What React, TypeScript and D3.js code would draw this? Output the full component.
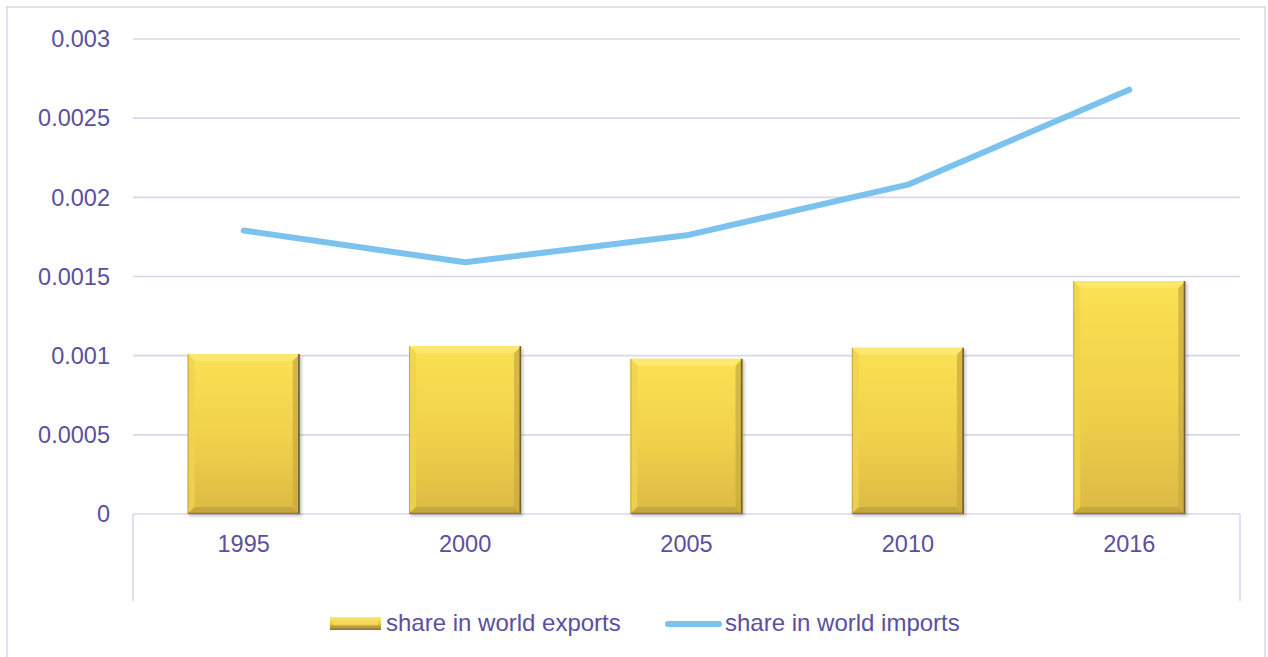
import React from "react";
import * as d3 from "d3";

const categories = ["1995", "2000", "2005", "2010", "2016"];
const exportsShare = [0.00101, 0.00106, 0.00098, 0.00105, 0.00147];
const importsShare = [0.00179, 0.00159, 0.00176, 0.00208, 0.00268];
const yTicks = [0, 0.0005, 0.001, 0.0015, 0.002, 0.0025, 0.003];
const yTickLabels = ["0", "0.0005", "0.001", "0.0015", "0.002", "0.0025", "0.003"];
const seriesNames = ["share in world exports", "share in world imports"];

const W = 1268;
const H = 657;
const TEXT = "#5b4f9f";
const GRID = "#d9d6ec";
const LINE = "#7cc2ee";
const FONT = "'Liberation Sans', Arial, sans-serif";

function Bar({ x, y, w, h }: { x: number; y: number; w: number; h: number }) {
  const b = Math.min(7, h / 4);
  const x1 = x + w;
  const y1 = y + h;
  return (
    <g filter="url(#shadow)">
      <rect x={x} y={y} width={w} height={h} fill="url(#barGrad)" />
      <polygon points={`${x},${y} ${x1},${y} ${x1 - b},${y + b} ${x + b},${y + b}`} fill="#fde86f" opacity={0.9} />
      <polygon points={`${x},${y} ${x + b},${y + b} ${x + b},${y1 - b} ${x},${y1}`} fill="#efd350" opacity={0.8} />
      <polygon points={`${x1},${y} ${x1},${y1} ${x1 - b},${y1 - b} ${x1 - b},${y + b}`} fill="#c9ab40" opacity={0.75} />
      <polygon points={`${x},${y1} ${x + b},${y1 - b} ${x1 - b},${y1 - b} ${x1},${y1}`} fill="#c2a33a" opacity={0.85} />
      <line x1={x1 - 0.8} y1={y} x2={x1 - 0.8} y2={y1} stroke="#6e6030" strokeWidth={1.6} />
      <line x1={x} y1={y1 - 0.6} x2={x1} y2={y1 - 0.6} stroke="#8a7634" strokeWidth={1.2} />
      <line x1={x + 0.5} y1={y} x2={x + 0.5} y2={y1} stroke="#b59a3a" strokeWidth={1} opacity={0.7} />
    </g>
  );
}

export default function App() {
  const left = 133;
  const right = 1240;
  const y = d3.scaleLinear().domain([0, 0.003]).range([514, 39]);
  const x = d3.scaleBand<string>().domain(categories).range([left, right]).padding(0);
  const barW = x.bandwidth() * 0.506;
  const cx = (c: string) => (x(c) as number) + x.bandwidth() / 2;

  const line = d3
    .line<number>()
    .x((_, i) => cx(categories[i]))
    .y((d) => y(d))
    .curve(d3.curveLinear);

  return (
    <svg
      width={W}
      height={H}
      style={{ position: "absolute", left: 0, top: 0, background: "#fff" }}
      fontFamily={FONT}
    >
      <defs>
        <linearGradient id="barGrad" x1="0" y1="0" x2="0" y2="1">
          <stop offset="0%" stopColor="#fbe153" />
          <stop offset="55%" stopColor="#f0d04a" />
          <stop offset="100%" stopColor="#dcb944" />
        </linearGradient>
        <linearGradient id="legGrad" x1="0" y1="0" x2="0" y2="1">
          <stop offset="0%" stopColor="#fdeb6c" />
          <stop offset="50%" stopColor="#e9c94a" />
          <stop offset="100%" stopColor="#8c7634" />
        </linearGradient>
        <filter id="shadow" x="-10%" y="-10%" width="125%" height="125%">
          <feDropShadow dx="1.5" dy="2" stdDeviation="1.5" floodColor="#000" floodOpacity="0.25" />
        </filter>
      </defs>

      <rect x={7} y={7} width={1258} height={700} fill="none" stroke={GRID} strokeWidth={1.5} />

      {yTicks.map((t, i) => (
        <line key={i} x1={left} x2={right} y1={y(t)} y2={y(t)} stroke={GRID} strokeWidth={1.6} />
      ))}
      <line x1={left} x2={left} y1={y(0)} y2={601} stroke={GRID} strokeWidth={1.6} />
      <line x1={right} x2={right} y1={y(0)} y2={601} stroke={GRID} strokeWidth={1.6} />

      {yTicks.map((t, i) => (
        <text key={i} x={110} y={y(t)} dy="0.35em" textAnchor="end" fill={TEXT} fontSize={23.5}>
          {yTickLabels[i]}
        </text>
      ))}

      {exportsShare.map((v, i) => {
        const c = categories[i];
        const bx = cx(c) - barW / 2;
        return <Bar key={c} x={bx} y={y(v)} w={barW} h={y(0) - y(v)} />;
      })}

      <path d={line(importsShare) || ""} fill="none" stroke={LINE} strokeWidth={6} strokeLinejoin="round" strokeLinecap="round" />

      {categories.map((c) => (
        <text key={c} x={cx(c)} y={552} textAnchor="middle" fill={TEXT} fontSize={23.5}>
          {c}
        </text>
      ))}

      <g>
        <rect x={330} y={617} width={51} height={13} fill="url(#legGrad)" />
        <rect x={333} y={619} width={45} height={6} fill="#f8e05a" opacity={0.7} />
        <text x={386} y={631} fill={TEXT} fontSize={24}>{seriesNames[0]}</text>
        <line x1={668} x2={719} y1={624} y2={624} stroke={LINE} strokeWidth={6} strokeLinecap="round" />
        <text x={725} y={631} fill={TEXT} fontSize={24}>{seriesNames[1]}</text>
      </g>
    </svg>
  );
}
